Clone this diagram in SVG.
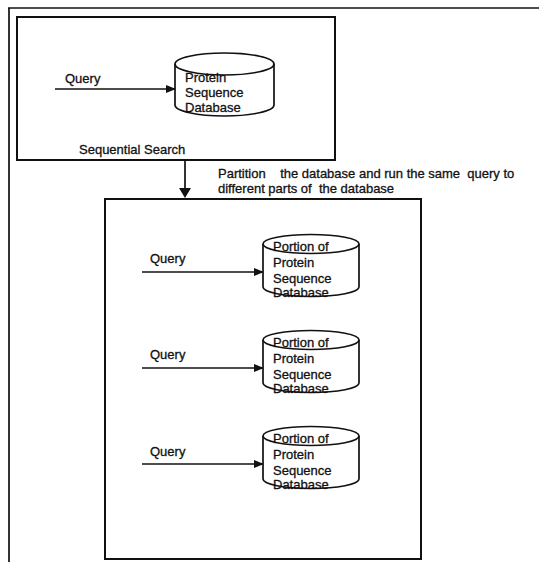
<svg xmlns="http://www.w3.org/2000/svg" width="539" height="562" viewBox="0 0 539 562">
<defs>
<style>
.t{font-family:"Liberation Sans",Arial,sans-serif;font-size:13px;fill:#111;stroke:#111;stroke-width:0.3}
.box{fill:none;stroke:#111;stroke-width:2}
.cyl{fill:#fff;stroke:#111;stroke-width:1.7}
.ln{stroke:#111;stroke-width:1.7;fill:none}
</style>
<marker id="ah" markerWidth="10" markerHeight="8" refX="9" refY="4" orient="auto" markerUnits="userSpaceOnUse">
<path d="M0,0 L10,4 L0,8 Z" fill="#111"/>
</marker>
</defs>
<rect width="539" height="562" fill="#fff"/>
<g id="frame">
<line x1="8" y1="8" x2="539" y2="8" class="ln" stroke-width="2"/>
<line x1="9" y1="8" x2="9" y2="562" class="ln" stroke-width="2"/>
</g>
<g id="sequential-box">
<rect x="17" y="17" width="318" height="143" class="box"/>
<text class="t" x="79" y="154">Sequential Search</text>
<text class="t" x="65" y="83">Query</text>
</g>
<g id="db-main">
<path class="cyl" d="M175,64 L175,105 A49.5,11 0 0 0 274,105 L274,64"/>
<ellipse class="cyl" cx="224.5" cy="64" rx="49.5" ry="11" fill="none"/>
<text class="t" x="185" y="82">Protein</text>
<text class="t" x="185" y="97">Sequence</text>
<text class="t" x="185" y="112">Database</text>
</g>
<g id="partition-label">
<text class="t" x="218" y="178" xml:space="preserve">Partition    the database and run the same  query to</text>
<text class="t" x="218" y="193" xml:space="preserve">different parts of  the database</text>
</g>
<g id="parallel-box">
<rect x="105" y="199" width="316" height="360" class="box"/>
<text class="t" x="150" y="263">Query</text>
<text class="t" x="150" y="359">Query</text>
<text class="t" x="150" y="456">Query</text>
</g>
<g id="db-portion-1">
<path class="cyl" d="M263,244 L263,287 A48,9.5 0 0 0 359,287 L359,244"/>
<ellipse class="cyl" cx="311" cy="244" rx="48" ry="9.5" fill="none"/>
<text class="t" x="273" y="251">Portion of</text>
<text class="t" x="273" y="267">Protein</text>
<text class="t" x="273" y="283">Sequence</text>
<text class="t" x="273" y="297">Database</text>
</g>
<g id="db-portion-2">
<path class="cyl" d="M263,340 L263,383 A48,9.5 0 0 0 359,383 L359,340"/>
<ellipse class="cyl" cx="311" cy="340" rx="48" ry="9.5" fill="none"/>
<text class="t" x="273" y="347">Portion of</text>
<text class="t" x="273" y="363">Protein</text>
<text class="t" x="273" y="379">Sequence</text>
<text class="t" x="273" y="393">Database</text>
</g>
<g id="db-portion-3">
<path class="cyl" d="M263,436 L263,479 A48,9.5 0 0 0 359,479 L359,436"/>
<ellipse class="cyl" cx="311" cy="436" rx="48" ry="9.5" fill="none"/>
<text class="t" x="273" y="443">Portion of</text>
<text class="t" x="273" y="459">Protein</text>
<text class="t" x="273" y="475">Sequence</text>
<text class="t" x="273" y="489">Database</text>
</g>
<g id="connectors">
<line class="ln" x1="55" y1="89" x2="175" y2="89" marker-end="url(#ah)"/>
<line class="ln" x1="185" y1="160" x2="185" y2="190" stroke-width="3.5"/>
<path d="M179,188 L191,188 L185,198 Z" fill="#111"/>
<line class="ln" x1="142" y1="272" x2="263" y2="272" marker-end="url(#ah)"/>
<line class="ln" x1="142" y1="368" x2="263" y2="368" marker-end="url(#ah)"/>
<line class="ln" x1="142" y1="464" x2="263" y2="464" marker-end="url(#ah)"/>
</g>
</svg>
